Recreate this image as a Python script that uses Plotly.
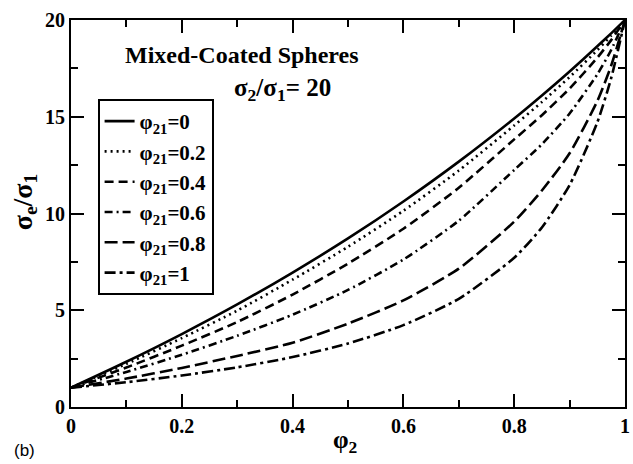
import plotly.graph_objects as go

# Volume fraction phi_2 (x axis)
phi2 = [0, 0.1, 0.2, 0.3, 0.4, 0.5, 0.6, 0.7, 0.8, 0.85, 0.9, 0.95, 0.975, 1.0]

# sigma_e / sigma_1, one list per phi_21 value
s_00 = [1, 2.34, 3.77, 5.30, 6.95, 8.71, 10.62, 12.68, 14.91, 16.10, 17.34, 18.64, 19.31, 20]
s_02 = [1, 2.23, 3.56, 4.98, 6.58, 8.28, 10.14, 12.22, 14.55, 15.76, 17.05, 18.44, 19.19, 20]
s_04 = [1, 2.04, 3.17, 4.39, 5.81, 7.41, 9.21, 11.33, 13.83, 15.08, 16.46, 18.05, 18.96, 20]
s_06 = [1, 1.81, 2.70, 3.68, 4.77, 6.05, 7.62, 9.63, 12.25, 13.58, 15.17, 17.19, 18.45, 20]
s_08 = [1, 1.47, 2.02, 2.64, 3.32, 4.31, 5.51, 7.15, 9.58, 11.19, 13.11, 15.81, 17.64, 20]
s_10 = [1, 1.28, 1.63, 2.05, 2.58, 3.28, 4.23, 5.59, 7.71, 9.28, 11.47, 14.71, 16.99, 20]

labels = ["φ<sub>21</sub>=0", "φ<sub>21</sub>=0.2", "φ<sub>21</sub>=0.4",
          "φ<sub>21</sub>=0.6", "φ<sub>21</sub>=0.8", "φ<sub>21</sub>=1"]
series = [s_00, s_02, s_04, s_06, s_08, s_10]
dashes = ["solid", "2px,4px", "9px,5px", "8px,4px,2px,4px", "13px,5px", "11px,4px,3px,4px"]

x_ticks = [0, 0.2, 0.4, 0.6, 0.8, 1]
x_ticktext = ["0", "0.2", "0.4", "0.6", "0.8", "1"]
y_ticks = [0, 5, 10, 15, 20]

SERIF = "Liberation Serif, Times New Roman, serif"

fig = go.Figure()
for lab, ys, d in zip(labels, series, dashes):
    fig.add_trace(go.Scatter(
        x=phi2, y=ys, mode="lines", name=lab,
        line=dict(color="black", width=2.6, dash=d, shape="spline", smoothing=0.6),
    ))

axis_common = dict(
    showline=True, linecolor="black", linewidth=2, mirror="allticks",
    ticks="inside", ticklen=13, tickwidth=2, tickcolor="black",
    showgrid=False, zeroline=False,
    tickfont=dict(family=SERIF, size=20, color="black", weight="bold"),
)

fig.update_xaxes(
    range=[0, 1], tickvals=x_ticks, ticktext=x_ticktext,
    minor=dict(ticks="inside", ticklen=7, tickwidth=2, tickcolor="black", dtick=0.1, tick0=0),
    **axis_common,
)
fig.update_yaxes(
    range=[0, 20], tickvals=y_ticks,
    minor=dict(ticks="inside", ticklen=7, tickwidth=2, tickcolor="black", dtick=2.5, tick0=0),
    **axis_common,
)

# axis titles as annotations for exact placement
fig.add_annotation(x=0.495, y=-0.088, xref="paper", yref="paper", xanchor="center", yanchor="middle",
                   text="φ<sub>2</sub>", showarrow=False,
                   font=dict(family=SERIF, size=25, color="black", weight="bold"))
fig.add_annotation(x=-0.084, y=0.53, xref="paper", yref="paper", xanchor="center", yanchor="middle",
                   text="σ<sub>e</sub>/σ<sub>1</sub>", showarrow=False, textangle=-90,
                   font=dict(family=SERIF, size=28, color="black", weight="bold"))

fig.add_annotation(x=0.093, y=0.91, xref="paper", yref="paper", xanchor="left", yanchor="middle",
                   text="Mixed-Coated Spheres", showarrow=False,
                   font=dict(family=SERIF, size=24, color="black", weight="bold"))
fig.add_annotation(x=0.29, y=0.82, xref="paper", yref="paper", xanchor="left", yanchor="middle",
                   text="σ<sub>2</sub>/σ<sub>1</sub>= 20", showarrow=False,
                   font=dict(family=SERIF, size=25, color="black", weight="bold"))
fig.add_annotation(x=-0.107, y=-0.112, xref="paper", yref="paper", xanchor="left", yanchor="middle",
                   text="(b)", showarrow=False,
                   font=dict(family="Liberation Sans, Arial, sans-serif", size=17, color="black"))

fig.update_layout(
    width=633, height=464,
    margin=dict(l=71, r=3, t=20, b=57),
    paper_bgcolor="white", plot_bgcolor="white",
    legend=dict(x=0.048, y=0.796, xanchor="left", yanchor="top",
                bordercolor="black", borderwidth=2, bgcolor="white",
                font=dict(family=SERIF, size=21, color="black", weight="bold"),
                tracegroupgap=0, itemwidth=30),
)

fig.write_html("out.html", config={"displayModeBar": False},
               post_script="document.body.style.margin='0';document.body.style.padding='0';")
